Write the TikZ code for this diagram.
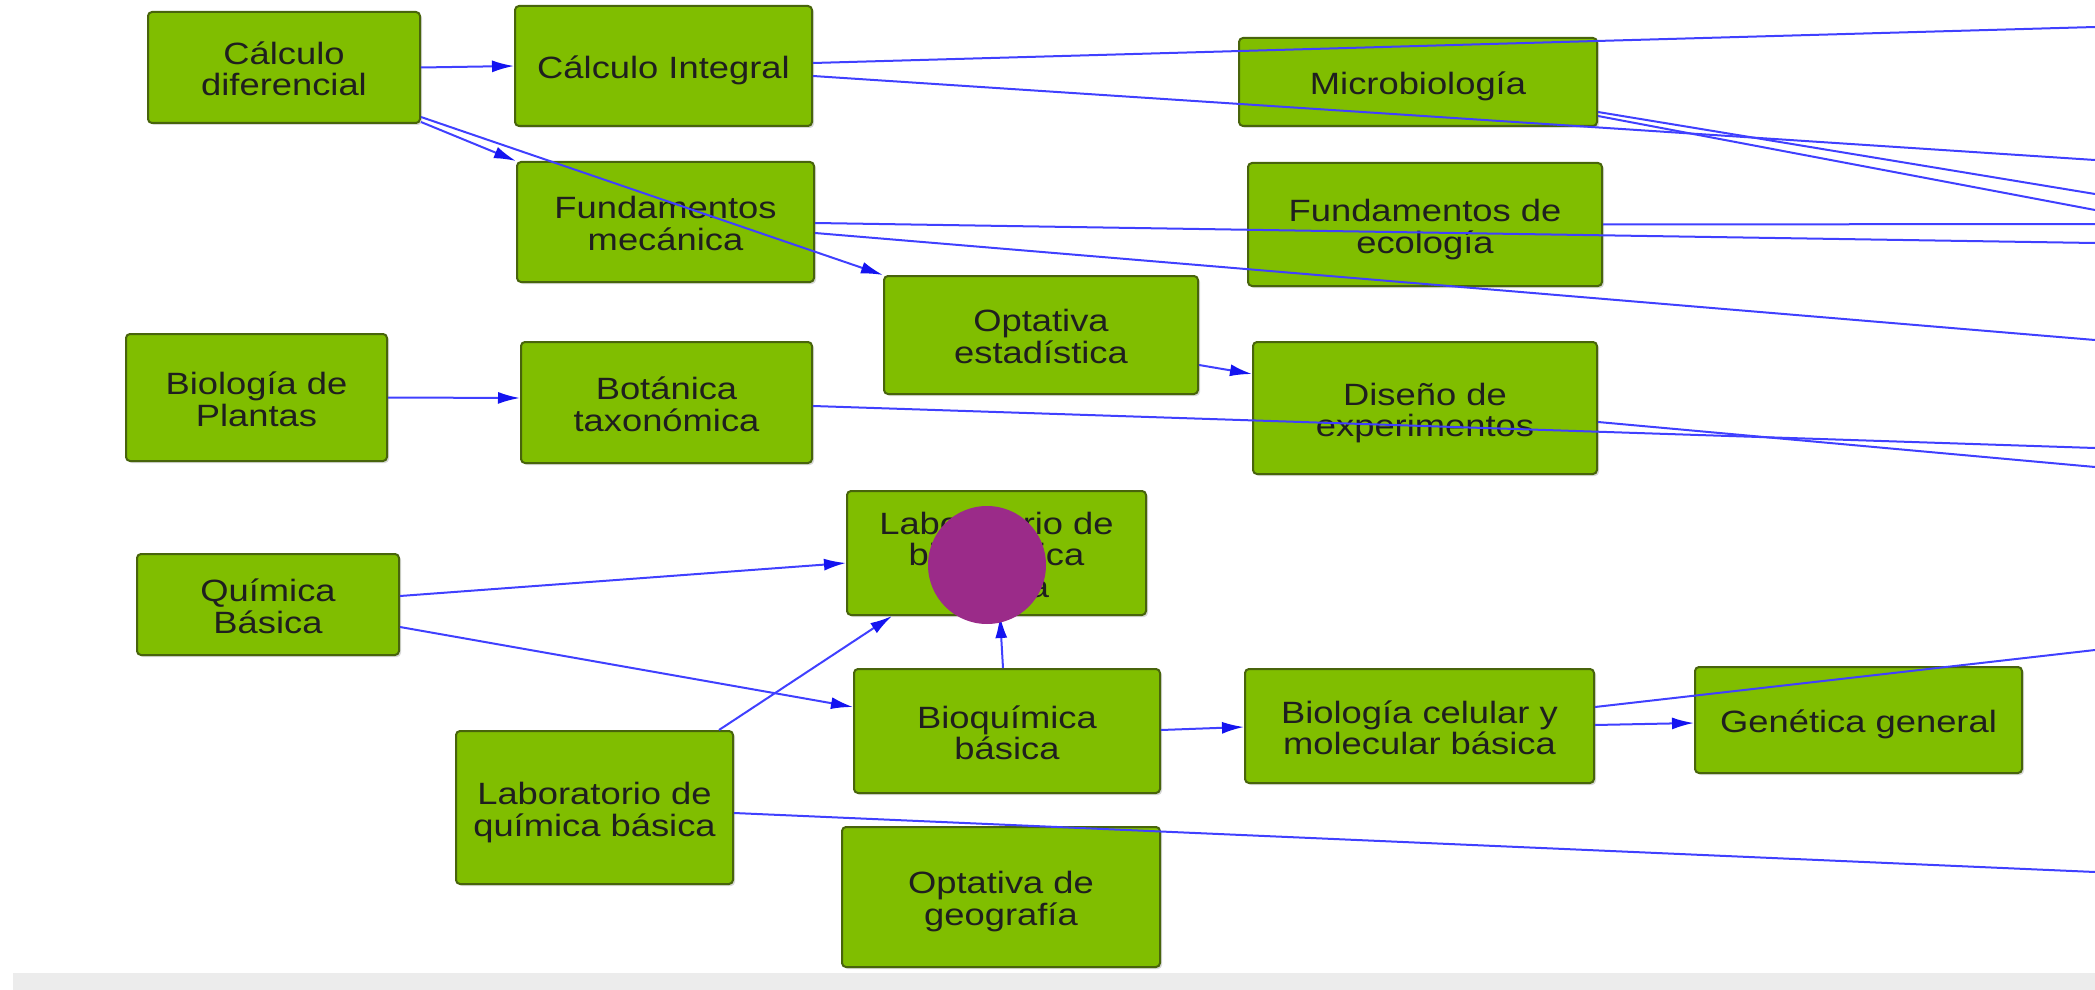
\documentclass[tikz,border=0pt]{standalone}
\usepackage{fontspec}
\setmainfont[FakeStretch=1.18]{Liberation Sans}
\usetikzlibrary{arrows.meta,calc,shadows}
\definecolor{boxfill}{RGB}{128,190,0}
\definecolor{boxline}{RGB}{72,100,12}
\definecolor{edgeblue}{RGB}{64,64,255}
\definecolor{tipblue}{RGB}{20,20,240}
\definecolor{dotpurple}{RGB}{155,43,137}
\definecolor{bandgray}{RGB}{236,236,236}
\newcommand\bxt[1]{\raisebox{-3pt}[\height][\depth]{\begin{tabular}{@{}c@{}}#1\end{tabular}}}
\begin{document}
\begin{tikzpicture}[x=0.5pt,y=-0.5pt,
  box/.style={draw=boxline, line width=1pt, fill=boxfill, rounded corners=2pt,
    font=\fontsize{15.4}{14.8}\selectfont, text=black!88, inner sep=0pt,
    drop shadow={shadow xshift=1pt, shadow yshift=-1pt, opacity=0.3}},
  sz/.style 2 args={minimum width=#1*0.5pt, minimum height=#2*0.5pt},
  link/.style={draw=edgeblue, line width=1pt},
  arr/.style={link, -{Latex[length=11pt,width=6pt,color=tipblue]}}]
\useasboundingbox (0,0) rectangle (2095,990);
\fill[bandgray] (13,973) rectangle (2095,990);

\node[box, sz={272}{111}] (cd) at (284,67.5) {\bxt{Cálculo\\diferencial}};
\node[box, sz={297}{120}] (ci) at (663.5,66) {\bxt{Cálculo Integral}};
\node[box, sz={297}{120}] (fm) at (665.5,222) {\bxt{Fundamentos\\mecánica}};
\node[box, sz={358}{88}] (mi) at (1418,82) {\bxt{Microbiología}};
\node[box, sz={354}{123}] (fe) at (1425,224.5) {\bxt{Fundamentos de\\ecología}};
\node[box, sz={314}{118}] (oe) at (1041,335) {\bxt{Optativa\\estadística}};
\node[box, sz={261}{127}] (bp) at (256.5,397.5) {\bxt{Biología de\\Plantas}};
\node[box, sz={291}{121}] (bt) at (666.5,402.5) {\bxt{Botánica\\taxonómica}};
\node[box, sz={344}{132}] (de) at (1425,408) {\bxt{Diseño de\\experimentos}};
\node[box, sz={299}{124}] (lb) at (996.5,553) {\bxt{Laboratorio de\\bioquímica\\básica}};
\node[box, sz={262}{101}] (qb) at (268,604.5) {\bxt{Química\\Básica}};
\node[box, sz={306}{124}] (bq) at (1007,731) {\bxt{Bioquímica\\básica}};
\node[box, sz={277}{153}] (lq) at (594.5,807.5) {\bxt{Laboratorio de\\química básica}};
\node[box, sz={318}{140}] (og) at (1001,897) {\bxt{Optativa de\\geografía}};
\node[box, sz={349}{114}] (bc) at (1419.5,726) {\bxt{Biología celular y\\molecular básica}};
\node[box, sz={327}{106}] (gg) at (1858.5,720) {\bxt{Genética general}};

\coordinate (r1) at (2095,27);
\coordinate (r2) at (2095,160);
\coordinate (r3) at (2095,194);
\coordinate (r4) at (2095,210);
\coordinate (r5) at (2095,243);
\coordinate (r6) at (2095,340);
\coordinate (r7) at (2095,224);
\coordinate (r8) at (2095,448);
\coordinate (r9) at (2095,467);
\coordinate (r10) at (2095,650);
\coordinate (r11) at (2095,872);

\draw[arr] (cd.east) -- (ci.west);
\draw[arr] ($(cd.south east)+(0,-2)$) -- (fm.north west);
\draw[arr] ($(cd.south east)+(0,-7)$) -- (oe.north west);
\draw[link] ($(ci.east)+(0,-3)$) -- (r1);
\draw[link] ($(ci.east)+(0,10)$) -- (r2);
\draw[link] ($(mi.east)+(0,30)$) -- (r3);
\draw[link] ($(mi.east)+(0,34)$) -- (r4);
\draw[link] ($(fm.east)+(0,1)$) -- (r5);
\draw[link] ($(fm.east)+(0,11)$) -- (r6);
\draw[link] (fe.east) -- (r7);
\draw[arr] ($(oe.east)+(0,30)$) -- ($(de.west)+(0,-34)$);
\draw[arr] (bp.east) -- ($(bt.west)+(0,-4.5)$);
\draw[link] ($(bt.east)+(0,3.5)$) -- (r8);
\draw[link] ($(de.east)+(0,14)$) -- (r9);
\draw[arr] ($(qb.east)+(0,-8.5)$) -- ($(lb.west)+(0,10)$);
\draw[arr] ($(qb.east)+(0,22.5)$) -- ($(bq.west)+(0,-24)$);
\draw[arr] ($(lq.north east)+(-15,0)$) -- ($(lb.south west)+(46,0)$);
\draw[arr] ($(bq.north)+(-4,0)$) -- ($(lb.south)+(3.5,0)$);
\draw[arr] ($(bq.east)+(0,-1)$) -- ($(bc.west)+(0,1)$);
\draw[arr] ($(bc.east)+(0,-1)$) -- ($(gg.west)+(0,3)$);
\draw[link] ($(bc.east)+(0,-19)$) -- (r10);
\draw[link] ($(lq.east)+(0,5.5)$) -- (r11);

\fill[dotpurple] (987,565) circle[radius=59];
\end{tikzpicture}
\end{document}
